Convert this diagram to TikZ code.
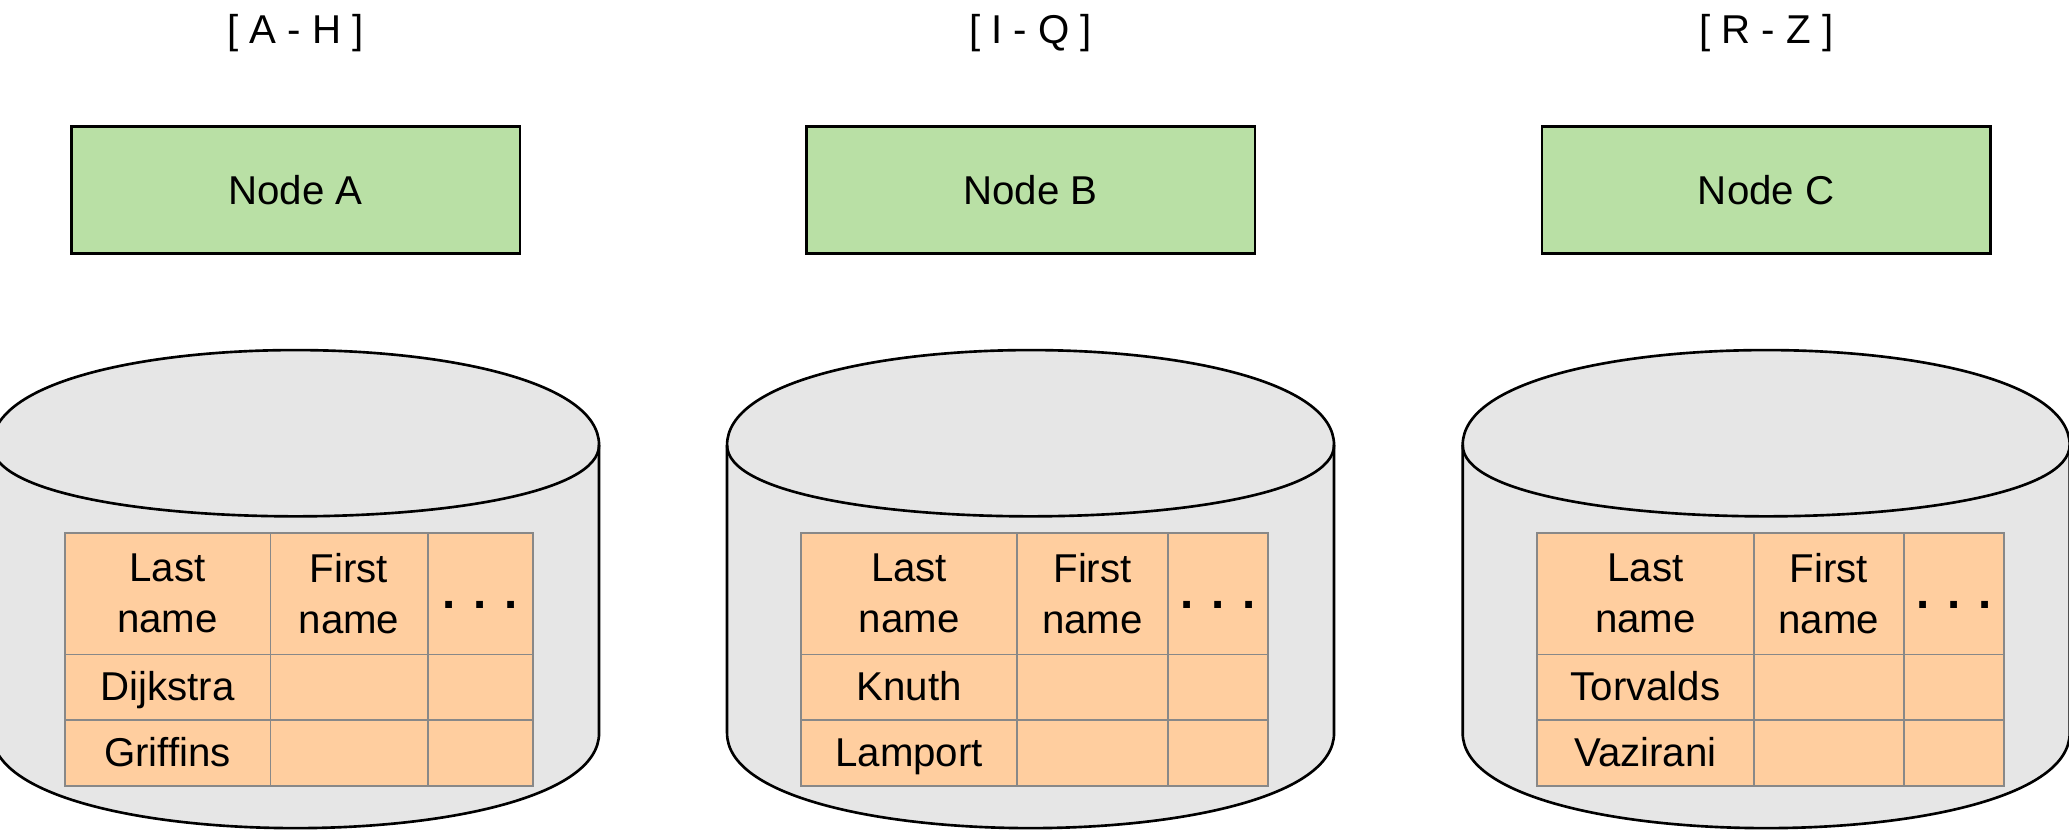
\documentclass[tikz,border=0pt]{standalone}
\usepackage{fontspec}
\setmainfont{Liberation Sans}
\definecolor{nodegreen}{HTML}{B9E0A5}
\definecolor{cellorange}{HTML}{FFCE9F}
\definecolor{cylgray}{HTML}{E6E6E6}
\definecolor{gridgray}{HTML}{888888}
\newcommand\dbcyl[1]{%
  \pgfmathsetmacro\cxl{#1}\pgfmathsetmacro\cxr{#1+460}%
  \draw[cylbody] (\cxl,337.3) .. controls (\cxl,241.3) and (\cxr,241.3) .. (\cxr,337.3)
     -- (\cxr,555.6) .. controls (\cxr,651.6) and (\cxl,651.6) .. (\cxl,555.6) -- cycle;
  \draw[cylline] (\cxl,337.3) .. controls (\cxl,409.3) and (\cxr,409.3) .. (\cxr,337.3);
}
\newcommand\dbtable[7]{%
  \fill[cellorange] (#2,404) rectangle (#5,596);
  \draw[gridline] (#2,404) rectangle (#5,596);
  \draw[gridline] (#2,496) -- (#5,496) (#2,546) -- (#5,546)
                  (#3,404) -- (#3,596) (#4,404) -- (#4,596);
  \node[hdrtext] (#1-last) at ({(#2+#3)/2},450) {Last\\name};
  \node[hdrtext] (#1-first) at ({(#3+#4)/2},450) {First\\name};
  \node[dotstext] (#1-more) at ({(#4+#5)/2},461.5) {. . .};
  \node[celltext] (#1-r1) at ({(#2+#3)/2},530.5) {#6};
  \node[celltext] (#1-r2) at ({(#2+#3)/2},581) {#7};
}
\begin{document}
\begin{tikzpicture}[x=1pt,y=-1pt,
  bigfont/.style={font=\fontsize{30.5}{38.7}\selectfont},
  nodebox/.style={draw=black, line width=2pt, fill=nodegreen, minimum width=340pt,
     minimum height=96pt, inner sep=0pt, bigfont},
  rangelabel/.style={anchor=base, inner sep=0pt, bigfont},
  cylbody/.style={draw=black, line width=2pt, fill=cylgray},
  cylline/.style={draw=black, line width=2pt},
  gridline/.style={draw=gridgray, line width=1.5pt},
  hdrtext/.style={align=center, inner sep=0pt, outer sep=0pt, bigfont},
  celltext/.style={anchor=base, inner sep=0pt, outer sep=0pt, bigfont},
  dotstext/.style={anchor=base, inner sep=0pt, outer sep=0pt, font=\fontsize{36}{40}\selectfont\bfseries},
]
\useasboundingbox (0,0) rectangle (1568,630);
\fill[white] (0,0) rectangle (1568,630);

\node[rangelabel] (labA) at (224,32.9) {[ A - H ]};
\node[rangelabel] (labB) at (781,32.9) {[ I - Q ]};
\node[rangelabel] (labC) at (1338.5,32.9) {[ R - Z ]};

\node[nodebox] (nodeA) at (224,144) {Node A};
\node[nodebox] (nodeB) at (781,144) {Node B};
\node[nodebox] (nodeC) at (1338.5,144) {Node C};

\dbcyl{-6}
\dbcyl{551}
\dbcyl{1108.5}

\dbtable{tA}{49}{205}{324}{404}{Dijkstra}{Griffins}
\dbtable{tB}{607}{771}{885}{961}{Knuth}{Lamport}
\dbtable{tC}{1165}{1329}{1443}{1519}{Torvalds}{Vazirani}
\end{tikzpicture}
\end{document}
